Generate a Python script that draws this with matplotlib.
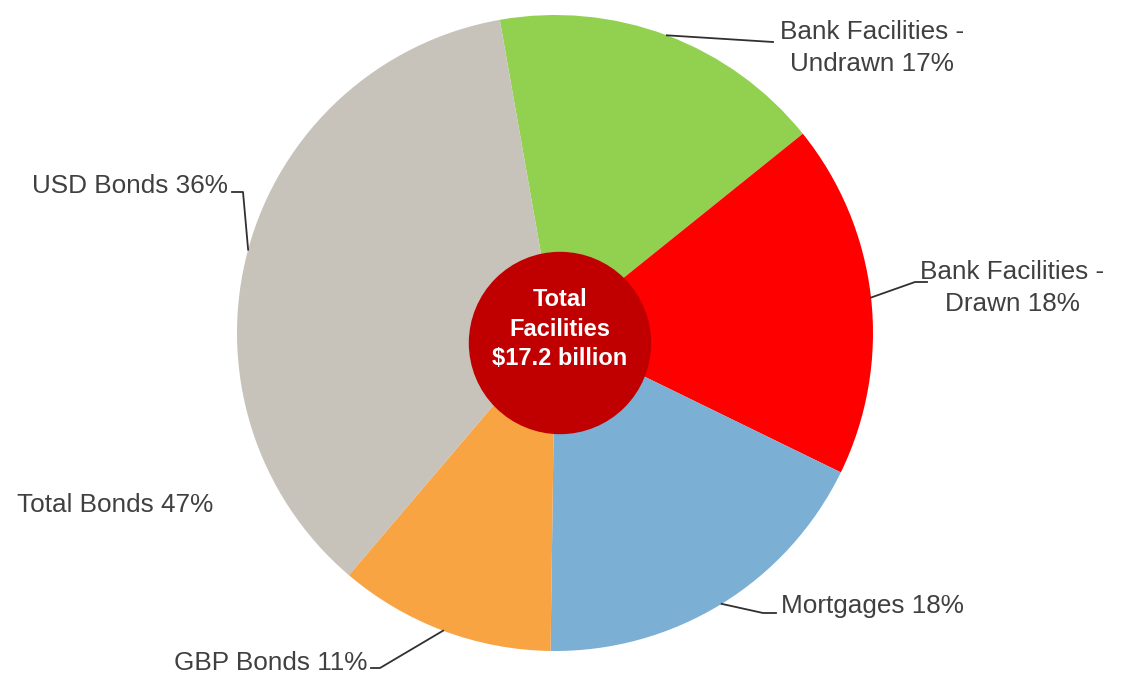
import numpy as np
import matplotlib.pyplot as plt

plt.rcParams['font.family'] = ['Liberation Sans', 'DejaVu Sans']

labels = ['Bank Facilities -\nUndrawn 17%', 'Bank Facilities -\nDrawn 18%', 'Mortgages 18%',
          'GBP Bonds 11%', 'USD Bonds 36%']
values = [17, 18, 18, 11, 36]
colors = ['#92D050', '#FF0000', '#7BAFD4', '#F9A443', '#C7C2BA']
total_bonds = 'Total Bonds 47%'
centre_text = 'Total\nFacilities\n$17.2 billion'

W, H = 1123, 676
fig = plt.figure(figsize=(W / 100, H / 100), dpi=100)
ax = fig.add_axes([0, 0, 1, 1])

cx, cy, r = 555, H - 333, 318
wedges, _ = ax.pie(values, colors=colors, startangle=100, counterclock=False,
                   center=(cx, cy), radius=r, frame=True)
ax.add_patch(plt.Circle((560, H - 343), 90.5, color='#C00000', zorder=5))
ax.text(560, H - 329, centre_text, ha='center', va='center', color='white',
        fontsize=17, fontweight='bold', linespacing=1.36, zorder=6)

txtc = '#404040'
# label layout: (elbow point, end point, text pos, ha)
layout = [
    (None, (773, H - 42), (872, H - 48), 'center'),
    ((915, H - 282), (927, H - 282), (1012, H - 288), 'center'),
    ((763, H - 613), (776, H - 613), (781, H - 606), 'left'),
    ((380, H - 668), (371, H - 668), (367, H - 663), 'right'),
    ((243, H - 192), (232, H - 192), (228, H - 186), 'right'),
]
for w, lab, (elb, end, tp, ha) in zip(wedges, labels, layout):
    a = np.deg2rad((w.theta1 + w.theta2) / 2)
    sx, sy = cx + r * np.cos(a), cy + r * np.sin(a)
    pts = [(sx, sy)] + ([elb] if elb else []) + [end]
    ax.plot([p[0] for p in pts], [p[1] for p in pts], color='#303030', lw=1.3)
    ax.text(tp[0], tp[1], lab, ha=ha, va='center', color=txtc, fontsize=18.8,
            linespacing=1.38, multialignment='center')

ax.text(17, H - 505, total_bonds, ha='left', va='center', color=txtc, fontsize=18.8)

ax.set_xlim(0, W)
ax.set_ylim(0, H)
ax.set_aspect('equal')
ax.axis('off')
plt.savefig('out.png', dpi=100)
